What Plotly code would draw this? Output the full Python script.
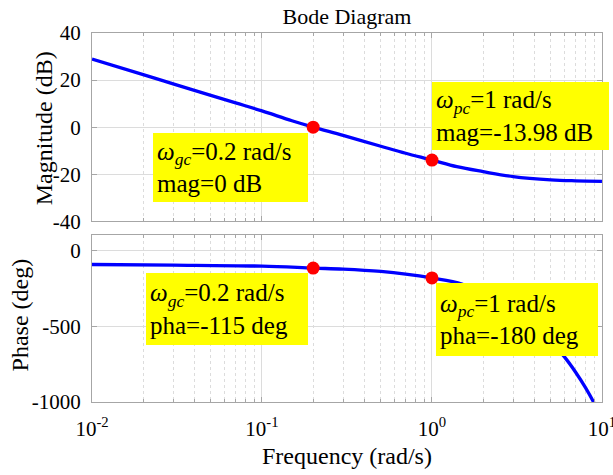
import plotly.graph_objects as go

# ---------------- data ----------------
freq_mag = [0.01, 0.02, 0.03, 0.05, 0.07, 0.1, 0.15, 0.2, 0.3, 0.5, 0.7, 1.0,
            1.4, 2.0, 3.0, 5.0, 7.0, 10.0]
mag_db = [28.9, 22.3, 18.4, 13.5, 10.3, 6.9, 2.7, 0.0, -3.5, -8.1, -11.1, -13.98,
          -16.8, -18.9, -21.0, -22.4, -22.8, -23.0]

freq_pha = [0.01, 0.03, 0.1, 0.2, 0.3, 0.5, 0.7, 1.0, 1.5, 2.0, 3.0, 4.0, 5.0,
            6.0, 7.0, 8.0, 9.0, 10.0]
phase_deg = [-91, -95, -102, -115, -122, -137, -154, -180, -220, -285, -390, -495,
             -600, -700, -803, -905, -1008, -1110]

marker_freq = [0.2, 1.0]
marker_mag = [0.0, -13.98]
marker_pha = [-115, -180]

x_tick_vals = [0.01, 0.1, 1, 10]
x_tick_text = ["10<sup>-2</sup>", "10<sup>-1</sup>", "10<sup>0</sup>", "10<sup>1</sup>"]
x_minor_vals = [0.02, 0.03, 0.04, 0.05, 0.06, 0.07, 0.08, 0.09,
                0.2, 0.3, 0.4, 0.5, 0.6, 0.7, 0.8, 0.9,
                2, 3, 4, 5, 6, 7, 8, 9]
mag_tick_vals = [-40, -20, 0, 20, 40]
mag_tick_text = ["-40", "-20", "0", "20", "40"]
pha_tick_vals = [-1000, -500, 0]
pha_tick_text = ["-1000", "-500", "0"]

title_text = "Bode Diagram"
mag_label = "Magnitude (dB)"
pha_label = "Phase (deg)"
freq_label = "Frequency (rad/s)"
note_texts = [
    "<i>ω</i><sub><i>gc</i></sub>=0.2 rad/s<br>mag=0 dB",
    "<i>ω</i><sub><i>pc</i></sub>=1 rad/s<br>mag=-13.98 dB",
    "<i>ω</i><sub><i>gc</i></sub>=0.2 rad/s<br>pha=-115 deg",
    "<i>ω</i><sub><i>pc</i></sub>=1 rad/s<br>pha=-180 deg",
]

# ---------------- figure ----------------
FONT = "'Liberation Serif', 'Times New Roman', 'DejaVu Serif', serif"
BLUE = "#0000FF"
RED = "#FF0000"
FRAME = "#a6a6a6"
GRID = "#dcdcdc"

fig = go.Figure()
fig.add_trace(go.Scatter(x=freq_mag, y=mag_db, mode="lines", line=dict(color=BLUE, width=3.3, shape="spline"),
                         xaxis="x", yaxis="y", showlegend=False, hoverinfo="skip"))
fig.add_trace(go.Scatter(x=marker_freq, y=marker_mag, mode="markers", marker=dict(color=RED, size=13),
                         xaxis="x", yaxis="y", showlegend=False))
fig.add_trace(go.Scatter(x=freq_pha, y=phase_deg, mode="lines", line=dict(color=BLUE, width=3.3, shape="spline"),
                         xaxis="x2", yaxis="y2", showlegend=False, hoverinfo="skip"))
fig.add_trace(go.Scatter(x=marker_freq, y=marker_pha, mode="markers", marker=dict(color=RED, size=13),
                         xaxis="x2", yaxis="y2", showlegend=False))

tickfont = dict(family=FONT, size=21, color="black")
X_RANGE = [-2, 1.0002]

def xaxis_style(show_labels):
    return dict(
        type="log", range=X_RANGE, automargin=False,
        tickmode="array", tickvals=x_tick_vals, ticktext=x_tick_text if show_labels else [""] * 4,
        showticklabels=show_labels, tickfont=tickfont, ticklabelstandoff=8,
        ticklabeloverflow="allow",
        showline=True, linecolor=FRAME, linewidth=1, mirror="ticks",
        ticks="inside", ticklen=5, tickcolor=FRAME,
        showgrid=True, gridcolor=GRID, gridwidth=1, zeroline=False,
        minor=dict(tickmode="array", tickvals=x_minor_vals, ticks="inside", ticklen=3,
                   tickcolor=FRAME, showgrid=True, gridcolor=GRID, griddash="dot", gridwidth=1),
    )

def yaxis_style(rng, vals, text, dom):
    return dict(
        range=rng, domain=dom, automargin=False, tickmode="array", tickvals=vals, ticktext=text,
        tickfont=tickfont, ticklabelstandoff=6,
        showline=True, linecolor=FRAME, linewidth=1, mirror="ticks",
        ticks="inside", ticklen=5, tickcolor=FRAME,
        showgrid=True, gridcolor=GRID, gridwidth=1, zeroline=False,
    )

fig.update_layout(
    width=613, height=475,
    margin=dict(l=92, r=11, t=33, b=73, autoexpand=False),
    paper_bgcolor="white", plot_bgcolor="white",
    font=dict(family=FONT, color="black"),
    xaxis=dict(anchor="y", **xaxis_style(False)),
    xaxis2=dict(anchor="y2", matches="x", **xaxis_style(True)),
    yaxis=dict(anchor="x", **yaxis_style([-40, 40], mag_tick_vals, mag_tick_text, [0.4897, 1.0])),
    yaxis2=dict(anchor="x2", **yaxis_style([-1000, 104], pha_tick_vals, pha_tick_text, [0.0, 0.4526])),
    title=dict(text=title_text, x=0.5, xref="paper", xanchor="center", y=1 - 16 / 475, yanchor="middle",
               font=dict(family=FONT, size=22, color="black")),
    showlegend=False,
)

label_font = dict(family=FONT, size=24, color="black")
fig.add_annotation(text=mag_label, xref="paper", yref="paper", x=-0.094, y=0.742, textangle=-90,
                   xanchor="center", yanchor="middle", showarrow=False, font=label_font)
fig.add_annotation(text=pha_label, xref="paper", yref="paper", x=-0.141, y=0.235, textangle=-90,
                   xanchor="center", yanchor="middle", showarrow=False, font=label_font)
fig.add_annotation(text=freq_label, xref="paper", yref="paper", x=0.5, y=-0.145,
                   xanchor="center", yanchor="middle", showarrow=False, font=label_font)

# yellow call-out boxes (positions in paper fraction)
box_specs = [
    (0.1196, 0.7290, 147, 61),
    (0.6667, 0.8672, 169, 60),
    (0.1059, 0.3487, 154, 64),
    (0.6745, 0.3216, 154, 65),
]
note_font = dict(family=FONT, size=25, color="black")
for txt, (bx, by, bw, bh) in zip(note_texts, box_specs):
    fig.add_annotation(text=txt, xref="paper", yref="paper", x=bx, y=by, xanchor="left", yanchor="top",
                       showarrow=False, align="left", valign="middle", width=bw, height=bh,
                       bgcolor="#FFFF00", borderpad=4, borderwidth=0, font=note_font)

fig.write_html("out.html", config={"displayModeBar": False},
               post_script="document.body.style.margin='0';document.body.style.overflow='hidden';")
